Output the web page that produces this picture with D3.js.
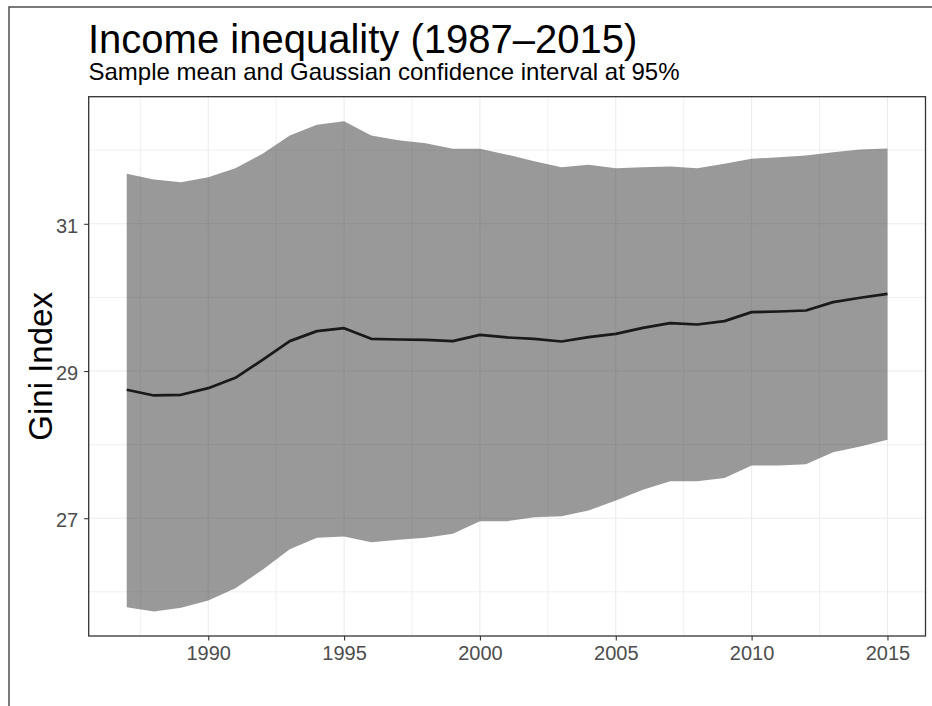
<!DOCTYPE html>
<html>
<head>
  <meta charset="UTF-8">
  <style>
body {
    margin: 0;
    background: white;
}
text {
    font-family: 'Liberation Sans', Arial, sans-serif;
}
.tick text {
    font-size: 20px;
    fill: #4d4d4d;
}
.tick line {
    stroke: #333333;
    stroke-width: 1.1;
}
  </style>
</head>
<body>
<svg id="chart"></svg>

<script src="https://d3js.org/d3.v7.min.js"></script>
<script>

let width = 932, height = 706;

// data
let years = [1987, 1988, 1989, 1990, 1991, 1992, 1993, 1994, 1995, 1996,
             1997, 1998, 1999, 2000, 2001, 2002, 2003, 2004, 2005, 2006,
             2007, 2008, 2009, 2010, 2011, 2012, 2013, 2014, 2015];
let meanGini = [28.745, 28.668, 28.677, 28.767, 28.908, 29.152, 29.406, 29.542, 29.582, 29.438,
                29.428, 29.424, 29.406, 29.492, 29.456, 29.438, 29.401, 29.460, 29.505, 29.587,
                29.650, 29.632, 29.678, 29.800, 29.809, 29.822, 29.936, 29.995, 30.049];
let upperGini = [31.679, 31.602, 31.566, 31.634, 31.756, 31.951, 32.200, 32.345, 32.394, 32.200,
                 32.135, 32.096, 32.019, 32.019, 31.940, 31.851, 31.770, 31.802, 31.756, 31.770,
                 31.779, 31.756, 31.815, 31.883, 31.906, 31.928, 31.974, 32.010, 32.024];
let lowerGini = [25.792, 25.733, 25.783, 25.882, 26.050, 26.299, 26.580, 26.734, 26.752, 26.675,
                 26.707, 26.734, 26.788, 26.960, 26.960, 27.014, 27.028, 27.105, 27.241, 27.386,
                 27.504, 27.504, 27.545, 27.717, 27.717, 27.735, 27.898, 27.975, 28.065];

let xMajor = [1990, 1995, 2000, 2005, 2010, 2015];
let xMinor = [1987.5, 1992.5, 1997.5, 2002.5, 2007.5, 2012.5];
let yMajor = [27, 29, 31];
let yMinor = [26, 28, 30, 32];

let titleText = "Income inequality (1987\u20132015)";
let subtitleText = "Sample mean and Gaussian confidence interval at 95%";
let yLabel = "Gini Index";

let panel = {left: 88.7, right: 925.5, top: 96.7, bottom: 636};

let svg = d3.select("#chart")
    .attr("width", width)
    .attr("height", height);

// outer frame (runs off the right / bottom edge)
svg.append("rect")
    .attr("x", 9).attr("y", 7)
    .attr("width", width + 40).attr("height", height + 40)
    .attr("fill", "white")
    .attr("stroke", "#333333")
    .attr("stroke-width", 1.3);

// scales with ggplot style 5% expansion
let xExt = d3.extent(years);
let xPad = (xExt[1] - xExt[0]) * 0.05;
let x = d3.scaleLinear()
    .domain([xExt[0] - xPad, xExt[1] + xPad])
    .range([panel.left, panel.right]);

let yExt = [d3.min(lowerGini), d3.max(upperGini)];
let yPad = (yExt[1] - yExt[0]) * 0.05;
let y = d3.scaleLinear()
    .domain([yExt[0] - yPad, yExt[1] + yPad])
    .range([panel.bottom, panel.top]);

// grid
let grid = svg.append("g");
grid.selectAll(".vminor").data(xMinor).enter().append("line")
    .attr("x1", d => x(d)).attr("x2", d => x(d))
    .attr("y1", panel.top).attr("y2", panel.bottom)
    .attr("stroke", "#ebebeb").attr("stroke-width", 0.8);
grid.selectAll(".hminor").data(yMinor).enter().append("line")
    .attr("y1", d => y(d)).attr("y2", d => y(d))
    .attr("x1", panel.left).attr("x2", panel.right)
    .attr("stroke", "#ebebeb").attr("stroke-width", 0.8);
grid.selectAll(".vmajor").data(xMajor).enter().append("line")
    .attr("x1", d => x(d)).attr("x2", d => x(d))
    .attr("y1", panel.top).attr("y2", panel.bottom)
    .attr("stroke", "#ebebeb").attr("stroke-width", 1.1);
grid.selectAll(".hmajor").data(yMajor).enter().append("line")
    .attr("y1", d => y(d)).attr("y2", d => y(d))
    .attr("x1", panel.left).attr("x2", panel.right)
    .attr("stroke", "#ebebeb").attr("stroke-width", 1.1);

// confidence ribbon
let ribbon = d3.area()
    .x((d, i) => x(years[i]))
    .y0((d, i) => y(lowerGini[i]))
    .y1((d, i) => y(upperGini[i]));

svg.append("path")
    .datum(years)
    .attr("d", ribbon)
    .attr("fill", "#333333")
    .attr("fill-opacity", 0.5);

// mean line
let line = d3.line()
    .x((d, i) => x(years[i]))
    .y((d, i) => y(meanGini[i]));

svg.append("path")
    .datum(meanGini)
    .attr("d", line)
    .attr("fill", "none")
    .attr("stroke", "#1a1a1a")
    .attr("stroke-width", 2.7)
    .attr("stroke-linejoin", "round");

// axes
let xAxis = svg.append("g")
    .attr("transform", "translate(0," + panel.bottom + ")")
    .call(d3.axisBottom(x).tickValues(xMajor).tickFormat(d3.format("d")).tickSize(4.5).tickPadding(5));
xAxis.select(".domain").remove();

let yAxis = svg.append("g")
    .attr("transform", "translate(" + panel.left + ",0)")
    .call(d3.axisLeft(y).tickValues(yMajor).tickSize(4.5).tickPadding(6));
yAxis.select(".domain").remove();
yAxis.selectAll(".tick text").attr("dy", "0.41em");

// panel border
svg.append("rect")
    .attr("x", panel.left).attr("y", panel.top)
    .attr("width", panel.right - panel.left)
    .attr("height", panel.bottom - panel.top)
    .attr("fill", "none")
    .attr("stroke", "#333333")
    .attr("stroke-width", 1.3);

// titles
svg.append("text")
    .attr("x", 88)
    .attr("y", 52.7)
    .style("font-size", "40px")
    .attr("fill", "black")
    .text(titleText);

svg.append("text")
    .attr("x", 88.5)
    .attr("y", 80)
    .style("font-size", "24px")
    .attr("fill", "black")
    .text(subtitleText);

svg.append("text")
    .attr("transform", "translate(52," + ((panel.top + panel.bottom) / 2) + ") rotate(-90)")
    .attr("text-anchor", "middle")
    .style("font-size", "33px")
    .attr("fill", "black")
    .text(yLabel);

</script>
</body>
</html>
